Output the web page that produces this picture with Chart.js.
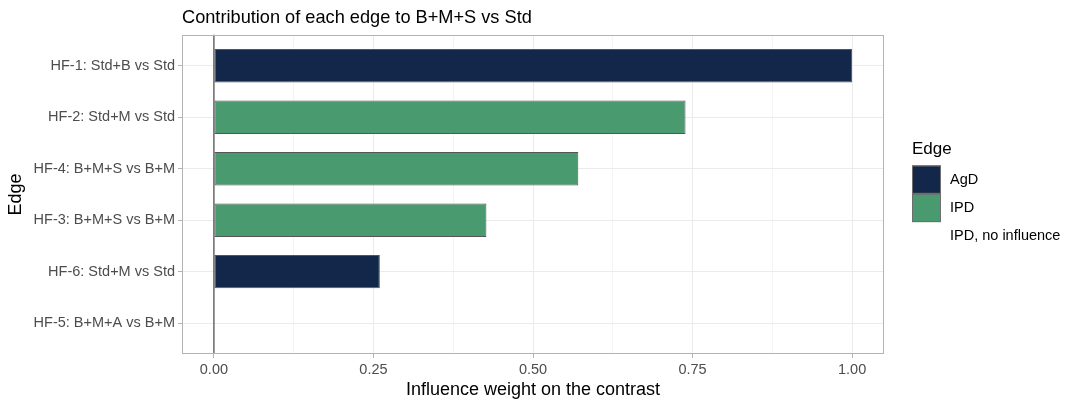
<!DOCTYPE html>
<html>
<head>
<meta charset="utf-8">
<script src="https://cdn.jsdelivr.net/npm/chart.js@4/dist/chart.umd.min.js"></script>
<style>
html,body{margin:0;padding:0;background:#fff;}
#wrap{width:1080px;height:408px;position:relative;}
</style>
</head>
<body>
<div id="wrap"><canvas id="c" width="1080" height="408"></canvas></div>
<script>
// ---- data ----
const categories = ['HF-1: Std+B vs Std','HF-2: Std+M vs Std','HF-4: B+M+S vs B+M','HF-3: B+M+S vs B+M','HF-6: Std+M vs Std','HF-5: B+M+A vs B+M'];
const weights = [1.0, 0.739, 0.571, 0.427, 0.26, 0];
const edgeTypes = ['AgD','IPD','IPD','IPD','AgD','IPD, no influence'];
const legendLabels = ['AgD','IPD','IPD, no influence'];
const legendColors = ['#13274A','#4A9A6F','rgba(0,0,0,0)'];
const xTickValues = [0, 0.25, 0.5, 0.75, 1];
const xTickLabels = ['0.00','0.25','0.50','0.75','1.00'];
const xMinorValues = [0.125, 0.375, 0.625, 0.875];

const colorOf = t => legendColors[legendLabels.indexOf(t)];
const FONT = "'Liberation Sans', Arial, Helvetica, sans-serif";
Chart.defaults.font.family = FONT;

const panelPlugin = {
  id: 'panel',
  afterDatasetsDraw(chart) {
    const {ctx, chartArea: a, scales} = chart;
    ctx.save();
    const x0 = scales.x.getPixelForValue(0);
    ctx.strokeStyle = '#5f5f5f';
    ctx.lineWidth = 1.4;
    ctx.beginPath(); ctx.moveTo(x0, a.top); ctx.lineTo(x0, a.bottom); ctx.stroke();
    ctx.strokeStyle = '#b3b3b3';
    ctx.lineWidth = 1;
    ctx.strokeRect(Math.round(a.left) + 0.5, Math.round(a.top) + 0.5, Math.round(a.right - a.left) - 1, Math.round(a.bottom - a.top) - 1);
    ctx.restore();
  },
  afterDraw(chart) {
    const {ctx} = chart;
    ctx.save();
    const lx = 912, boxW = 29, boxH = 28.3, top0 = 165.5;
    ctx.fillStyle = '#000';
    ctx.font = '17px ' + FONT;
    ctx.textBaseline = 'middle';
    ctx.textAlign = 'left';
    ctx.fillText('Edge', lx, 149);
    ctx.font = '14.5px ' + FONT;
    legendLabels.forEach((lab, i) => {
      const y = top0 + i * boxH;
      if (legendColors[i] !== 'rgba(0,0,0,0)') {
        ctx.fillStyle = legendColors[i];
        ctx.fillRect(lx, y, boxW, boxH);
        ctx.strokeStyle = '#6e6e6e';
        ctx.lineWidth = 1;
        ctx.strokeRect(lx + 0.5, y + 0.5, boxW - 1, boxH - 1);
      }
      ctx.fillStyle = '#000';
      ctx.fillText(lab, 950, y + boxH / 2);
    });
    ctx.restore();
  }
};

new Chart(document.getElementById('c'), {
  type: 'bar',
  data: {
    datasets: [{
      data: categories.map((c, i) => ({x: weights[i], y: i})),
      backgroundColor: edgeTypes.map(colorOf),
      borderColor: '#555555',
      borderWidth: 1,
      borderSkipped: false,
      barPercentage: 0.65,
      categoryPercentage: 1
    }]
  },
  options: {
    indexAxis: 'y',
    responsive: false,
    animation: false,
    layout: {padding: {right: 196, left: 0, top: 0, bottom: 0}},
    plugins: {
      legend: {display: false},
      tooltip: {enabled: false},
      title: {
        display: true,
        text: 'Contribution of each edge to B+M+S vs Std',
        align: 'start',
        fullSize: false,
        color: '#000',
        font: {size: 18.2, weight: 'normal', family: FONT},
        padding: {top: 7, bottom: 6}
      }
    },
    scales: {
      x: {
        type: 'linear',
        min: -0.05,
        max: 1.05,
        offset: false,
        afterBuildTicks: s => { s.ticks = xTickValues.concat(xMinorValues).sort((a,b)=>a-b).map(v => ({value: v})); },
        afterFit: s => { s.height = 54; },
        ticks: {
          autoSkip: false, maxRotation: 0, padding: 3,
          color: '#4d4d4d', font: {size: 14.5},
          callback: v => { const k = xTickValues.indexOf(v); return k >= 0 ? xTickLabels[k] : ''; }
        },
        grid: {
          offset: false,
          color: c => (c.tick && xTickValues.includes(c.tick.value)) ? '#ebebeb' : '#f4f4f4',
          lineWidth: 1,
          tickLength: 4,
          tickColor: c => (c.tick && xTickValues.includes(c.tick.value)) ? '#b3b3b3' : 'rgba(0,0,0,0)'
        },
        border: {display: false},
        title: {display: true, text: 'Influence weight on the contrast', color: '#000', font: {size: 18}, padding: {top: 0, bottom: 7}}
      },
      y: {
        type: 'linear',
        reverse: true,
        min: -0.6,
        max: 5.6,
        offset: false,
        afterBuildTicks: s => { s.ticks = categories.map((c, i) => ({value: i})); },
        afterFit: s => { s.width = 182; },
        ticks: {
          autoSkip: false, padding: 3, color: '#4d4d4d', font: {size: 14.5},
          callback: v => categories[v]
        },
        grid: {offset: false, color: '#ebebeb', lineWidth: 1, tickLength: 4, tickColor: '#b3b3b3'},
        border: {display: false},
        title: {display: true, text: 'Edge', color: '#000', font: {size: 18}, padding: {top: 5, bottom: 0}}
      }
    }
  },
  plugins: [panelPlugin]
});
</script>
</body>
</html>
